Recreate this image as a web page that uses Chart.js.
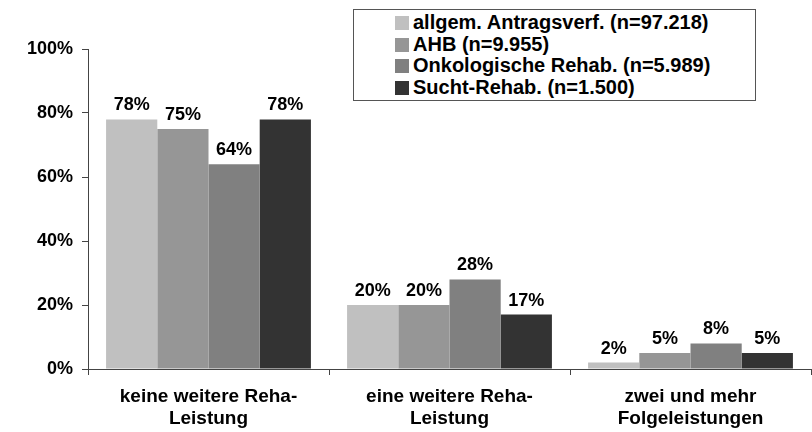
<!DOCTYPE html>
<html>
<head>
<meta charset="utf-8">
<script src="https://cdn.jsdelivr.net/npm/chart.js@4"></script>
<style>
  html, body { margin: 0; padding: 0; background: #fff; }
  #wrap { position: relative; width: 812px; height: 432px; }
  #legend {
    position: absolute; left: 353px; top: 9px; width: 403px; height: 92px;
    border: 1px solid #555; background: #fff; padding: 2px 0 0 41px; box-sizing: border-box;
    font: bold 20px "Liberation Sans", Arial, sans-serif; color: #000;
  }
  #legend div { height: 21.7px; line-height: 21.7px; white-space: nowrap; }
  #legend span { display: inline-block; width: 14px; height: 14px; margin-right: 4px; vertical-align: -1px; }
</style>
</head>
<body>
<div id="wrap">
  <canvas id="myBar" width="812" height="432"></canvas>
  <div id="legend"></div>
</div>
<script>
var categories = [["keine weitere Reha-", "Leistung"], ["eine weitere Reha-", "Leistung"], ["zwei und mehr", "Folgeleistungen"]];
var seriesNames = ["allgem. Antragsverf. (n=97.218)", "AHB (n=9.955)", "Onkologische Rehab. (n=5.989)", "Sucht-Rehab. (n=1.500)"];
var allgem = [78, 20, 2];
var ahb = [75, 20, 5];
var onko = [64, 28, 8];
var sucht = [78, 17, 5];
var yTicks = [0, 20, 40, 60, 80, 100];

var colors = ['#c0c0c0', '#969696', '#808080', '#333333'];
var font = '"Liberation Sans", Arial, sans-serif';

var valueLabels = {
  id: 'valueLabels',
  afterDatasetsDraw: function (chart) {
    var ctx = chart.ctx;
    ctx.save();
    ctx.font = 'bold 18px ' + font;
    ctx.fillStyle = '#000';
    ctx.textAlign = 'center';
    ctx.textBaseline = 'alphabetic';
    chart.data.datasets.forEach(function (ds, i) {
      chart.getDatasetMeta(i).data.forEach(function (bar, j) {
        ctx.fillText(ds.data[j] + '%', bar.x, bar.y - 9);
      });
    });
    ctx.restore();
  }
};

var config1 = {
  type: 'bar',
  data: {
    labels: categories,
    datasets: [
      { label: seriesNames[0], data: allgem, backgroundColor: colors[0] },
      { label: seriesNames[1], data: ahb, backgroundColor: colors[1] },
      { label: seriesNames[2], data: onko, backgroundColor: colors[2] },
      { label: seriesNames[3], data: sucht, backgroundColor: colors[3] }
    ]
  },
  options: {
    responsive: false,
    animation: false,
    layout: { padding: { top: 49, right: 1, left: 0, bottom: 0 } },
    categoryPercentage: 0.85,
    barPercentage: 1.0,
    plugins: {
      legend: { display: false },
      tooltip: { enabled: false }
    },
    scales: {
      x: {
        afterFit: function (axis) { axis.height = 63; },
        grid: { drawOnChartArea: false, color: '#444', tickLength: 6, offset: true },
        border: { color: '#444', width: 1 },
        ticks: { color: '#000', font: { family: font, size: 19, weight: 'bold', lineHeight: 1.2 }, maxRotation: 0, padding: 10 }
      },
      y: {
        min: 0,
        max: 100,
        afterBuildTicks: function (axis) {
          axis.ticks = yTicks.map(function (v) { return { value: v }; });
        },
        afterFit: function (axis) { axis.width = 88; },
        grid: { drawOnChartArea: false, color: '#444', tickLength: 6 },
        border: { color: '#444', width: 1 },
        ticks: {
          color: '#000', padding: 9,
          font: { family: font, size: 18, weight: 'bold' },
          callback: function (v) { return v + '%'; }
        }
      }
    }
  },
  plugins: [valueLabels]
};

var chart = new Chart(document.getElementById('myBar'), config1);

var legendEl = document.getElementById('legend');
seriesNames.forEach(function (name, i) {
  var row = document.createElement('div');
  var sw = document.createElement('span');
  sw.style.background = colors[i];
  row.appendChild(sw);
  row.appendChild(document.createTextNode(name));
  legendEl.appendChild(row);
});
</script>
</body>
</html>
